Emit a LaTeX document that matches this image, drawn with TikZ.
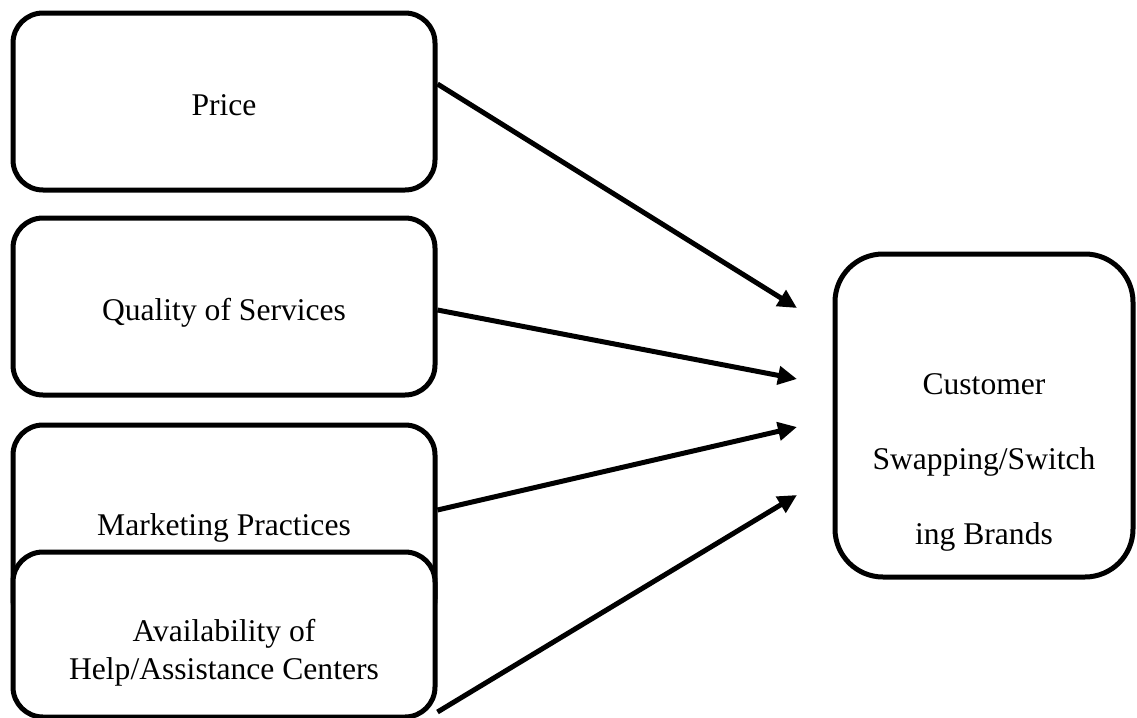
\documentclass[tikz,border=0pt]{standalone}
\usepackage{fontspec}
\setmainfont{Liberation Serif}
\usetikzlibrary{arrows.meta}

\begin{document}
\begin{tikzpicture}[x=0.5pt,y=-0.5pt,
  factor/.style={draw, line width=2.5pt, rounded corners=15pt, fill=white,
    minimum width=211pt, inner sep=0pt, align=center,
    font=\fontsize{15.8pt}{19pt}\selectfont},
  outcome/.style={factor, rounded corners=24pt, minimum width=149pt,
    minimum height=161.5pt, font=\fontsize{15.8pt}{37.5pt}\selectfont},
  link/.style={line width=2.5pt, -{Triangle[length=9.5pt,width=9pt]}}]
  \useasboundingbox (0,0) rectangle (1137,718);
   %%%%%%%%%%%%%%%%% vertices %%%%%%%%%%%%%%%%%%%
   % factors on the left, from top to bottom
  \node[factor, minimum height=88.5pt, text height=13.5pt, text depth=0pt]
    (price) at (224,101.5) {Price};
  \node[factor, minimum height=88.5pt, text height=13.5pt, text depth=0pt]
    (quality) at (224,306.5) {Quality of Services};
  \node[factor, minimum height=102pt, text height=8pt, text depth=0pt]
    (marketing) at (224,527) {Marketing Practices};
  \node[factor, minimum height=82.5pt]
    (avail) at (224,634.5) {\rule{0pt}{29.8pt}Availability of\\Help/Assistance Centers};
   % outcome on the right
  \node[outcome] (switch) at (984,415.5)
    {\rule{0pt}{57.8pt}Customer\\Swapping/Switch\\ing Brands};

   %%%%%%%%%%%%%%%%% edges %%%%%%%%%%%%%%%%%%%%%%%
  \foreach \y [count=\n from 1] in {308,379,427,495}
    {\coordinate (t\n) at (797,\y);}
  \foreach \src/\dy [count=\n from 1] in
      {price/8.75,quality/-1.75,marketing/8.5,avail/-38.75}
    {\draw[link] ([yshift=\dy pt]\src.east) -- (t\n);}
\end{tikzpicture}
\end{document}
